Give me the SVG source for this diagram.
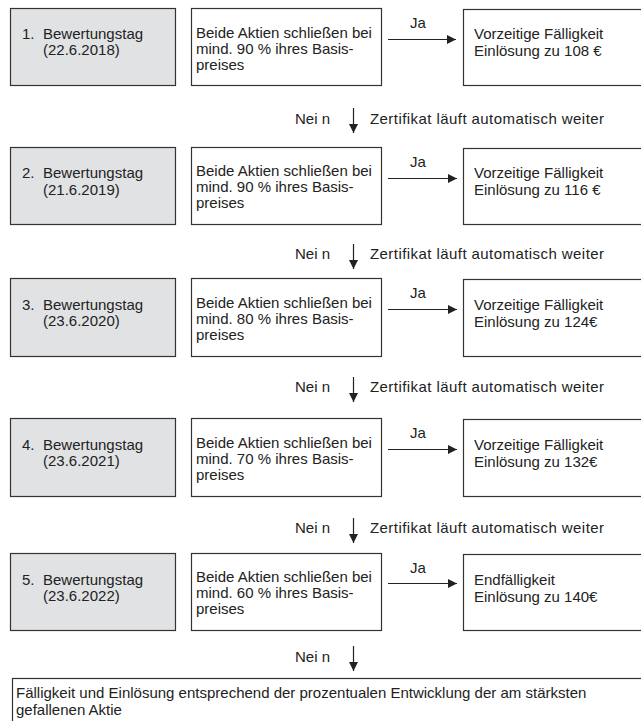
<svg xmlns="http://www.w3.org/2000/svg" width="641" height="721" viewBox="0 0 641 721">
<style>
text{font-family:"Liberation Sans",Arial,sans-serif;font-size:15px;fill:#222}
.box{fill:#fff;stroke:#333;stroke-width:1.2}
.day{fill:#e1e2e4;stroke:#333;stroke-width:1.2}
.ln{stroke:#222;stroke-width:1.2;fill:none}
</style>
<defs>
<marker id="ah" viewBox="0 0 10 10" refX="10" refY="5" markerWidth="12" markerHeight="9" markerUnits="userSpaceOnUse" orient="auto">
<path d="M0,0 L10,5 L0,10 Z" fill="#222"/>
</marker>
<marker id="av" viewBox="0 0 10 10" refX="10" refY="5" markerWidth="11" markerHeight="9" markerUnits="userSpaceOnUse" orient="auto">
<path d="M0,0 L10,5 L0,10 Z" fill="#222"/>
</marker>
</defs>

<g id="day1"><rect class="day" x="10.5" y="8.5" width="165" height="77"/><text x="22" y="39">1.</text><text x="43" y="39">Bewertungstag</text><text x="43" y="55">(22.6.2018)</text></g>
<g id="cond1"><rect class="box" x="191.5" y="8.5" width="190" height="77"/><text x="196" y="38">Beide Aktien schließen bei</text><text x="196" y="54">mind. 90 % ihres Basis-</text><text x="196" y="70">preises</text></g>
<g id="res1"><rect class="box" x="463.5" y="9.5" width="190" height="76"/><text x="474" y="39">Vorzeitige Fälligkeit</text><text x="474" y="56">Einlösung zu 108 €</text></g>

<g id="day2"><rect class="day" x="10.5" y="147.5" width="165" height="77"/><text x="22" y="178">2.</text><text x="43" y="178">Bewertungstag</text><text x="43" y="195">(21.6.2019)</text></g>
<g id="cond2"><rect class="box" x="191.5" y="147.5" width="190" height="77"/><text x="196" y="176">Beide Aktien schließen bei</text><text x="196" y="192">mind. 90 % ihres Basis-</text><text x="196" y="208">preises</text></g>
<g id="res2"><rect class="box" x="463.5" y="148.5" width="190" height="76"/><text x="474" y="178">Vorzeitige Fälligkeit</text><text x="474" y="195">Einlösung zu 116 €</text></g>

<g id="day3"><rect class="day" x="10.5" y="278.5" width="165" height="78"/><text x="22" y="310">3.</text><text x="43" y="310">Bewertungstag</text><text x="43" y="326">(23.6.2020)</text></g>
<g id="cond3"><rect class="box" x="191.5" y="278.5" width="190" height="78"/><text x="196" y="308">Beide Aktien schließen bei</text><text x="196" y="324">mind. 80 % ihres Basis-</text><text x="196" y="340">preises</text></g>
<g id="res3"><rect class="box" x="463.5" y="279.5" width="190" height="77"/><text x="474" y="310">Vorzeitige Fälligkeit</text><text x="474" y="327">Einlösung zu 124€</text></g>

<g id="day4"><rect class="day" x="10.5" y="418.5" width="165" height="78"/><text x="22" y="450">4.</text><text x="43" y="450">Bewertungstag</text><text x="43" y="466">(23.6.2021)</text></g>
<g id="cond4"><rect class="box" x="191.5" y="418.5" width="190" height="78"/><text x="196" y="448">Beide Aktien schließen bei</text><text x="196" y="464">mind. 70 % ihres Basis-</text><text x="196" y="480">preises</text></g>
<g id="res4"><rect class="box" x="463.5" y="419.5" width="190" height="77"/><text x="474" y="450">Vorzeitige Fälligkeit</text><text x="474" y="467">Einlösung zu 132€</text></g>

<g id="day5"><rect class="day" x="10.5" y="553.5" width="165" height="77"/><text x="22" y="585">5.</text><text x="43" y="585">Bewertungstag</text><text x="43" y="601">(23.6.2022)</text></g>
<g id="cond5"><rect class="box" x="191.5" y="553.5" width="190" height="77"/><text x="196" y="582">Beide Aktien schließen bei</text><text x="196" y="598">mind. 60 % ihres Basis-</text><text x="196" y="614">preises</text></g>
<g id="res5"><rect class="box" x="463.5" y="554.5" width="190" height="76"/><text x="474" y="585">Endfälligkeit</text><text x="474" y="602">Einlösung zu 140€</text></g>

<g id="final"><rect class="box" x="12.5" y="678.5" width="640" height="60"/><text x="16" y="698">Fälligkeit und Einlösung entsprechend der prozentualen Entwicklung der am stärksten</text><text x="16" y="715">gefallenen Aktie</text></g>

<g id="connectors">
<line class="ln" x1="388" y1="39.5" x2="456" y2="39.5" marker-end="url(#ah)"/><text x="410" y="28">Ja</text>
<line class="ln" x1="388" y1="178.5" x2="457" y2="178.5" marker-end="url(#ah)"/><text x="410" y="167">Ja</text>
<line class="ln" x1="388" y1="309.5" x2="457" y2="309.5" marker-end="url(#ah)"/><text x="410" y="298">Ja</text>
<line class="ln" x1="388" y1="449.5" x2="457" y2="449.5" marker-end="url(#ah)"/><text x="410" y="438">Ja</text>
<line class="ln" x1="388" y1="583.5" x2="457" y2="583.5" marker-end="url(#ah)"/><text x="410" y="573">Ja</text>

<line class="ln" x1="353.5" y1="108" x2="353.5" y2="133" marker-end="url(#av)"/><text x="295" y="124">Nei n</text><text x="370" y="124" textLength="234">Zertifikat läuft automatisch weiter</text>
<line class="ln" x1="353.5" y1="244" x2="353.5" y2="269" marker-end="url(#av)"/><text x="295" y="259">Nei n</text><text x="370" y="259" textLength="234">Zertifikat läuft automatisch weiter</text>
<line class="ln" x1="353.5" y1="377" x2="353.5" y2="402" marker-end="url(#av)"/><text x="295" y="392">Nei n</text><text x="370" y="392" textLength="234">Zertifikat läuft automatisch weiter</text>
<line class="ln" x1="353.5" y1="518" x2="353.5" y2="543" marker-end="url(#av)"/><text x="295" y="533">Nei n</text><text x="370" y="533" textLength="234">Zertifikat läuft automatisch weiter</text>
<line class="ln" x1="353.5" y1="646" x2="353.5" y2="671" marker-end="url(#av)"/><text x="295" y="662">Nei n</text>
</g>
</svg>
